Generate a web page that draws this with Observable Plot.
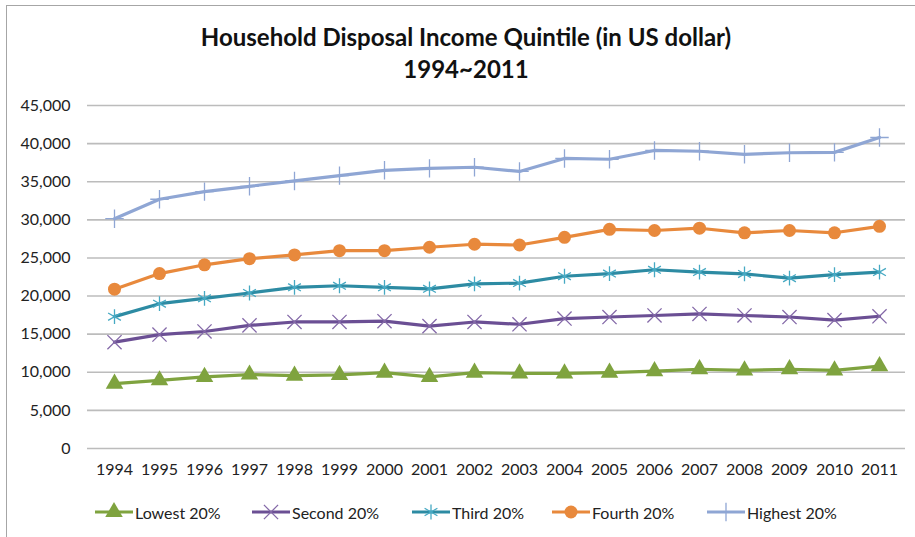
<!DOCTYPE html>
<html>
<head>
<meta charset="utf-8">
<script src="https://cdn.jsdelivr.net/npm/d3@7"></script>
<script src="https://cdn.jsdelivr.net/npm/@observablehq/plot@0.6"></script>
<style>
  html, body { margin: 0; padding: 0; background: #fff; }
  #wrap { position: relative; width: 915px; height: 537px; overflow: hidden; font-family: Lato, "Open Sans", sans-serif; }
  #frame { position: absolute; left: 6px; top: 5px; width: 1000px; height: 1000px; border-left: 1.5px solid #a6a6a6; border-top: 1.5px solid #a6a6a6; }
  #title { position: absolute; left: 0; top: 21px; width: 932px; text-align: center; font-weight: bold; font-size: 24px; line-height: 32px; color: #111; }
  #chart { position: absolute; left: 0; top: 90px; }
  #legend { position: absolute; left: 0; top: 499px; width: 915px; height: 26px; }
  #legend .item { position: absolute; top: 0; display: flex; align-items: center; font-size: 16px; color: #222; height: 26px; }
</style>
</head>
<body>
<div id="wrap">
  <div id="frame"></div>
  <div id="title">Household Disposal Income Quintile (in US dollar)<br>1994~2011</div>
  <div id="chart"></div>
  <div id="legend"></div>
</div>
<script>
const years = ["1994","1995","1996","1997","1998","1999","2000","2001","2002","2003","2004","2005","2006","2007","2008","2009","2010","2011"];
const lowest  = [8500, 8950, 9400, 9700, 9550, 9650, 9950, 9400, 9950, 9850, 9850, 9950, 10150, 10400, 10250, 10400, 10250, 10800];
const second  = [13950, 14950, 15350, 16150, 16600, 16600, 16700, 16050, 16600, 16300, 17050, 17250, 17450, 17650, 17450, 17250, 16850, 17350];
const third   = [17300, 19000, 19700, 20400, 21150, 21350, 21150, 20950, 21600, 21700, 22600, 22950, 23450, 23150, 22900, 22350, 22800, 23150];
const fourth  = [20900, 22950, 24100, 24900, 25400, 25950, 25950, 26400, 26800, 26700, 27700, 28750, 28600, 28900, 28300, 28600, 28300, 29150];
const highest = [30150, 32700, 33700, 34400, 35100, 35800, 36500, 36750, 36900, 36350, 38050, 37950, 39100, 39000, 38600, 38800, 38850, 40800];
const seriesNames = ["Lowest 20%", "Second 20%", "Third 20%", "Fourth 20%", "Highest 20%"];
const yTicks = [0, 5000, 10000, 15000, 20000, 25000, 30000, 35000, 40000, 45000];

const seriesValues = [lowest, second, third, fourth, highest];
const styles = [
  {line: "#7FA33F", mark: "#7FA33F", symbol: "triangle", filled: true,  r: 6.5},
  {line: "#6B4F94", mark: "#8469A8", symbol: "times",    filled: false, r: 6.5},
  {line: "#2D8BA3", mark: "#46A9C3", symbol: "asterisk", filled: false, r: 7},
  {line: "#E8893C", mark: "#E8893C", symbol: "circle",   filled: true,  r: 6.5},
  {line: "#8FA6D4", mark: "#8FA6D4", symbol: "plus",     filled: false, r: 6}
];

const marks = [
  Plot.gridY(yTicks, {stroke: "#bcbcbc", strokeOpacity: 1, strokeWidth: 1.6})
];
seriesValues.forEach((vals, i) => {
  const data = years.map((y, j) => ({year: y, value: vals[j]}));
  const s = styles[i];
  marks.push(Plot.line(data, {x: "year", y: "value", stroke: s.line, strokeWidth: 3.2, curve: "linear"}));
  marks.push(Plot.dot(data, {
    x: "year", y: "value", symbol: s.symbol, r: s.r,
    fill: s.filled ? s.mark : "none",
    stroke: s.mark, strokeWidth: s.filled ? 0 : 1.3
  }));
});

const chart = Plot.plot({
  width: 915,
  height: 400,
  marginTop: 15,
  marginBottom: 42,
  marginLeft: 87,
  marginRight: 10,
  style: {fontFamily: "Lato, 'Open Sans', sans-serif", fontSize: "16px", color: "#222", background: "transparent"},
  x: {type: "point", domain: years, padding: 0.5, label: null},
  y: {domain: [0, 45000], label: null},
  marks: [
    ...marks,
    Plot.axisX({tickSize: 0, tickPadding: 15, label: null}),
    Plot.axisY(yTicks, {tickSize: 0, tickPadding: 17, tickFormat: d3.format(","), label: null})
  ]
});
document.getElementById("chart").appendChild(chart);

// Legend
const legendX = [95, 252, 412, 552, 707];
const legend = d3.select("#legend");
seriesNames.forEach((name, i) => {
  const s = styles[i];
  const item = legend.append("div").attr("class", "item").style("left", legendX[i] + "px");
  const svg = item.append("svg").attr("width", 39).attr("height", 26);
  svg.append("line").attr("x1", 0).attr("x2", 38).attr("y1", 13).attr("y2", 13)
    .attr("stroke", s.line).attr("stroke-width", 3.2);
  const symType = {triangle: d3.symbolTriangle, times: d3.symbolTimes, asterisk: d3.symbolAsterisk, circle: d3.symbolCircle, plus: d3.symbolPlus}[s.symbol];
  svg.append("path").attr("transform", "translate(19,13)")
    .attr("d", d3.symbol(symType, Math.PI * s.r * s.r)())
    .attr("fill", s.filled ? s.mark : "none")
    .attr("stroke", s.mark).attr("stroke-width", s.filled ? 0 : 1.3);
  item.append("span").text(name).style("margin-left", "1px");
});
</script>
</body>
</html>
